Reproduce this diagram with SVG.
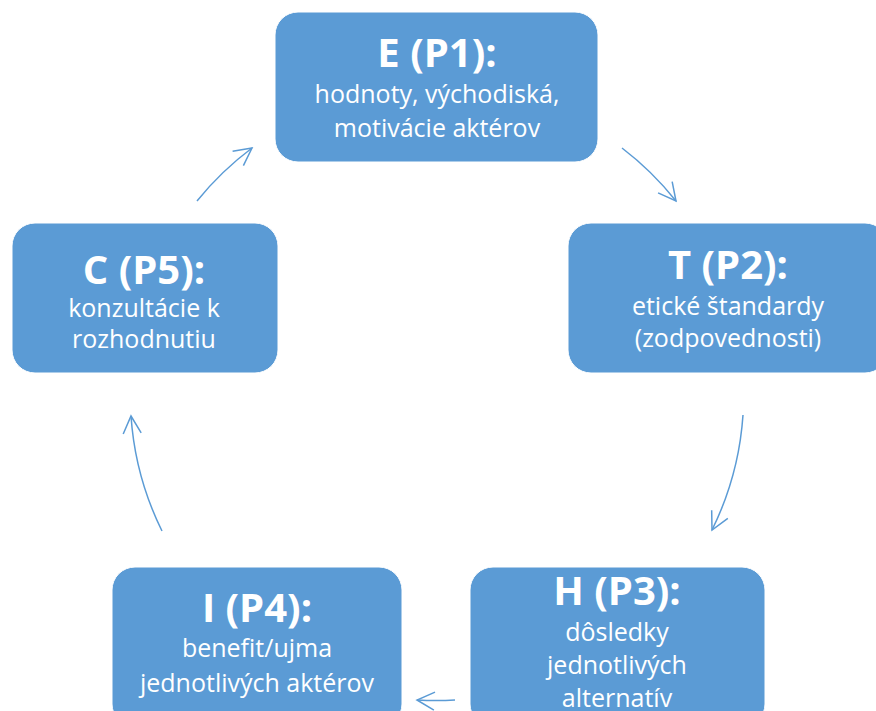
<svg xmlns="http://www.w3.org/2000/svg" width="876" height="711" viewBox="0 0 876 711">
<defs>
<style>
.box{fill:#5B9BD5;stroke:#ffffff;stroke-width:1}
.t{font-family:"Open Sans","Noto Sans","Liberation Sans",sans-serif;fill:#ffffff;text-anchor:middle}
.h{font-size:40px;font-weight:bold}
.s{font-size:25px}
.c{fill:none;stroke:#5B9BD5;stroke-width:1.5}
</style>
<marker id="ah" markerUnits="userSpaceOnUse" markerWidth="30" markerHeight="30" refX="0" refY="0" viewBox="-20 -15 25 30" orient="auto" overflow="visible">
<path d="M-17.5,-9 L0,0 L-17.5,9" fill="none" stroke="#5B9BD5" stroke-width="1.5"/>
</marker>
</defs>
<rect width="876" height="711" fill="#ffffff"/>
<g id="connectors">
<path class="c" d="M197,201 A307,307 0 0 1 252,148" marker-end="url(#ah)"/>
<path class="c" d="M622,148 A307,307 0 0 1 676,201" marker-end="url(#ah)"/>
<path class="c" d="M743,415 A307,307 0 0 1 712,530" marker-end="url(#ah)"/>
<path class="c" d="M455,700 A307,307 0 0 1 417,700" marker-end="url(#ah)"/>
<path class="c" d="M162,531 A307,307 0 0 1 131,416" marker-end="url(#ah)"/>
</g>
<g id="nodeE">
<rect class="box" x="275" y="12" width="323" height="150" rx="23"/>
<text class="t h" x="437" y="67">E (P1):</text>
<text class="t s" x="437" y="103">hodnoty, východiská,</text>
<text class="t s" x="437" y="137">motivácie aktérov</text>
</g>
<g id="nodeT">
<rect class="box" x="568" y="223" width="320" height="150" rx="23"/>
<text class="t h" x="728" y="279">T (P2):</text>
<text class="t s" x="728" y="315">etické štandardy</text>
<text class="t s" x="728" y="347">(zodpovednosti)</text>
</g>
<g id="nodeH">
<rect class="box" x="470" y="567" width="295" height="160" rx="23"/>
<text class="t h" x="617" y="605">H (P3):</text>
<text class="t s" x="617" y="641">dôsledky</text>
<text class="t s" x="617" y="674">jednotlivých</text>
<text class="t s" x="617" y="707">alternatív</text>
</g>
<g id="nodeI">
<rect class="box" x="112" y="567" width="290" height="160" rx="23"/>
<text class="t h" x="257" y="622">I (P4):</text>
<text class="t s" x="257" y="657">benefit/ujma</text>
<text class="t s" x="257" y="692">jednotlivých aktérov</text>
</g>
<g id="nodeC">
<rect class="box" x="12" y="223" width="266" height="150" rx="23"/>
<text class="t h" x="144" y="284">C (P5):</text>
<text class="t s" x="144" y="317">konzultácie k</text>
<text class="t s" x="144" y="348">rozhodnutiu</text>
</g>
</svg>
